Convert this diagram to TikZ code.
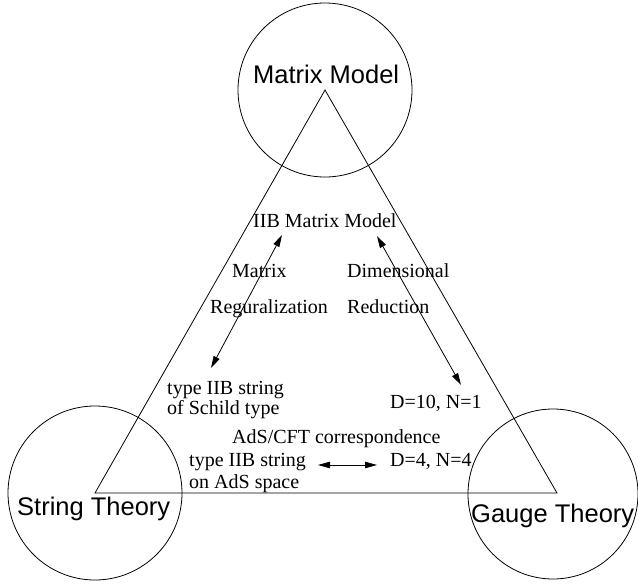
\documentclass[tikz,border=0pt]{standalone}
\usepackage{fontspec}
\setmainfont{Liberation Serif}
\newfontfamily\labsans{Liberation Sans}
\usetikzlibrary{arrows.meta}
\begin{document}
\begin{tikzpicture}[x=1pt,y=-1pt,
  ring/.style={draw,circle,line width=0.8pt,minimum size=174pt,inner sep=0pt},
  bigtxt/.style={font=\labsans\fontsize{25.5}{28}\selectfont,inner sep=0pt,anchor=base west},
  smalltxt/.style={font=\fontsize{20}{22}\selectfont,inner sep=0pt,anchor=base west},
  edge/.style={line width=0.8pt},
  dbl/.style={line width=0.8pt,{Triangle[length=12pt,width=6.5pt]}-{Triangle[length=12pt,width=6.5pt]}}]
\useasboundingbox (0,0) rectangle (638,584);
% circles
\node[ring] (mm) at (325,90) {};
\node[ring] (st) at (95,493) {};
\node[ring,minimum size=170pt] (gt) at (553,494) {};
% triangle vertices
\coordinate (va) at (325,90);
\coordinate (vb) at (95,493);
\coordinate (vc) at (557,493);
\draw[edge] (va) -- (vb) -- (vc) -- cycle;
% big labels
\node[bigtxt] (mmt) at (253,83) {Matrix Model};
\node[bigtxt] (stt) at (17,515) {String Theory};
\node[bigtxt] (gtt) at (471,522) {Gauge Theory};
% small labels
\node[smalltxt] (iib) at (253,227) {IIB Matrix Model};
\node[smalltxt] (mat) at (232,277) {Matrix};
\node[smalltxt] (reg) at (210,313) {Reguralization};
\node[smalltxt] (dim) at (347,277) {Dimensional};
\node[smalltxt] (red) at (347,313) {Reduction};
\node[smalltxt] (sch1) at (167,394) {type IIB string};
\node[smalltxt] (sch2) at (167,414) {of Schild type};
\node[smalltxt] (d10) at (390,408) {D=10, N=1};
\node[smalltxt] (ads) at (232,443) {AdS/CFT correspondence};
\node[smalltxt] (ads1) at (189,466) {type IIB string};
\node[smalltxt] (ads2) at (189,488) {on AdS space};
\node[smalltxt] (d4) at (390,466) {D=4, N=4};
% arrow ends
\coordinate (l1) at (282,235);
\coordinate (l2) at (211,368);
\coordinate (r1) at (377,236);
\coordinate (r2) at (461,385);
\coordinate (h1) at (318,465);
\coordinate (h2) at (377,465);
\draw[dbl] (l1) -- (l2);
\draw[dbl] (r1) -- (r2);
\draw[dbl] (h1) -- (h2);
\end{tikzpicture}
\end{document}
